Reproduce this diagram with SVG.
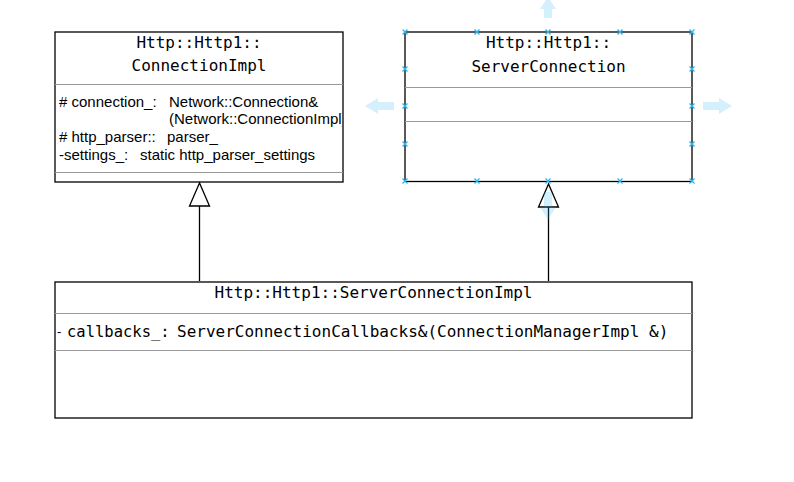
<svg xmlns="http://www.w3.org/2000/svg" width="794" height="482" viewBox="0 0 794 482">
<style>
.box{fill:#fff;stroke:#000;stroke-width:1.3}
.div{stroke:#999;stroke-width:1}
.title{font-family:"DejaVu Sans Mono","Liberation Mono",monospace;font-size:16px;fill:#000;text-anchor:middle}
.mono{font-family:"DejaVu Sans Mono","Liberation Mono",monospace;font-size:16px;fill:#000}
.attr{font-family:"Liberation Sans",Arial,sans-serif;font-size:15px;fill:#000}
.edge{stroke:#000;stroke-width:1.3;fill:none}
.tri{fill:#fff;stroke:#000;stroke-width:1.3}
.sel{fill:#29b6f2;opacity:0.2}
.hx{stroke:#29b6f2;stroke-width:1.2}
</style>
<defs>
<clipPath id="c1"><rect x="55" y="32" width="287" height="150"/></clipPath>
<g id="xm"><line class="hx" x1="-2.5" y1="-2.5" x2="2.5" y2="2.5"/><line class="hx" x1="-2.5" y1="2.5" x2="2.5" y2="-2.5"/></g>
</defs>
<rect width="794" height="482" fill="#fff"/>

<g id="ConnectionImpl">
<rect class="box" x="55" y="32" width="288" height="150"/>
<text class="title" x="199" y="48">Http::Http1::</text>
<text class="title" x="199" y="71">ConnectionImpl</text>
<line class="div" x1="55" y1="84.5" x2="343" y2="84.5"/>
<g clip-path="url(#c1)">
<text class="attr" x="59" y="107"># connection_:</text>
<text class="attr" x="169" y="107">Network::Connection&amp;</text>
<text class="attr" x="169" y="124">(Network::ConnectionImpl)</text>
<text class="attr" x="59" y="142"># http_parser::</text>
<text class="attr" x="167" y="142">parser_</text>
<text class="attr" x="59" y="160">-settings_:</text>
<text class="attr" x="140" y="160">static http_parser_settings</text>
</g>
<line class="div" x1="55" y1="172.5" x2="343" y2="172.5"/>
</g>

<g id="ServerConnection">
<rect class="box" x="405" y="32" width="287" height="149.5"/>
<text class="title" x="548.5" y="48">Http::Http1::</text>
<text class="title" x="548.5" y="72">ServerConnection</text>
<line class="div" x1="405" y1="87.5" x2="692" y2="87.5"/>
<line class="div" x1="405" y1="121.5" x2="692" y2="121.5"/>
</g>

<g id="ServerConnectionImpl">
<rect class="box" x="55" y="282" width="637" height="136"/>
<text class="title" x="373.5" y="298">Http::Http1::ServerConnectionImpl</text>
<line class="div" x1="55" y1="313.5" x2="692" y2="313.5"/>
<text class="attr" x="57" y="336" style="font-size:13px">-</text>
<text class="mono" x="67" y="337" style="font-size:15.5px">callbacks_:</text>
<text class="mono" x="177" y="337">ServerConnectionCallbacks&amp;(ConnectionManagerImpl &amp;)</text>
<line class="div" x1="55" y1="350.5" x2="692" y2="350.5"/>
</g>

<g id="connectors">
<line class="edge" x1="199.5" y1="206" x2="199.5" y2="281"/>
<polygon class="tri" points="199.5,183 189.5,206 209.5,206"/>
<line class="edge" x1="548.5" y1="207" x2="548.5" y2="281"/>
<polygon class="tri" points="548.5,184 538.5,207 558.5,207"/>
</g>

<g id="selection">
<polygon class="sel" points="548,-3 556,9 552,9 552,18 544,18 544,9 540,9"/>
<polygon class="sel" points="365,106 378,98 378,102 394,102 394,110 378,110 378,114"/>
<polygon class="sel" points="732,106 719,98 719,102 703,102 703,110 719,110 719,114"/>
<polygon class="sel" points="548,220 540,207 544,207 544,192 552,192 552,207 556,207"/>
<use href="#xm" x="405" y="32"/><use href="#xm" x="477" y="32"/><use href="#xm" x="548" y="32"/><use href="#xm" x="620" y="32"/><use href="#xm" x="692" y="32"/>
<use href="#xm" x="405" y="69"/><use href="#xm" x="692" y="69"/>
<use href="#xm" x="405" y="106"/><use href="#xm" x="692" y="106"/>
<use href="#xm" x="405" y="144"/><use href="#xm" x="692" y="144"/>
<use href="#xm" x="405" y="181"/><use href="#xm" x="477" y="181"/><use href="#xm" x="548" y="181"/><use href="#xm" x="620" y="181"/><use href="#xm" x="692" y="181"/>
</g>
</svg>
